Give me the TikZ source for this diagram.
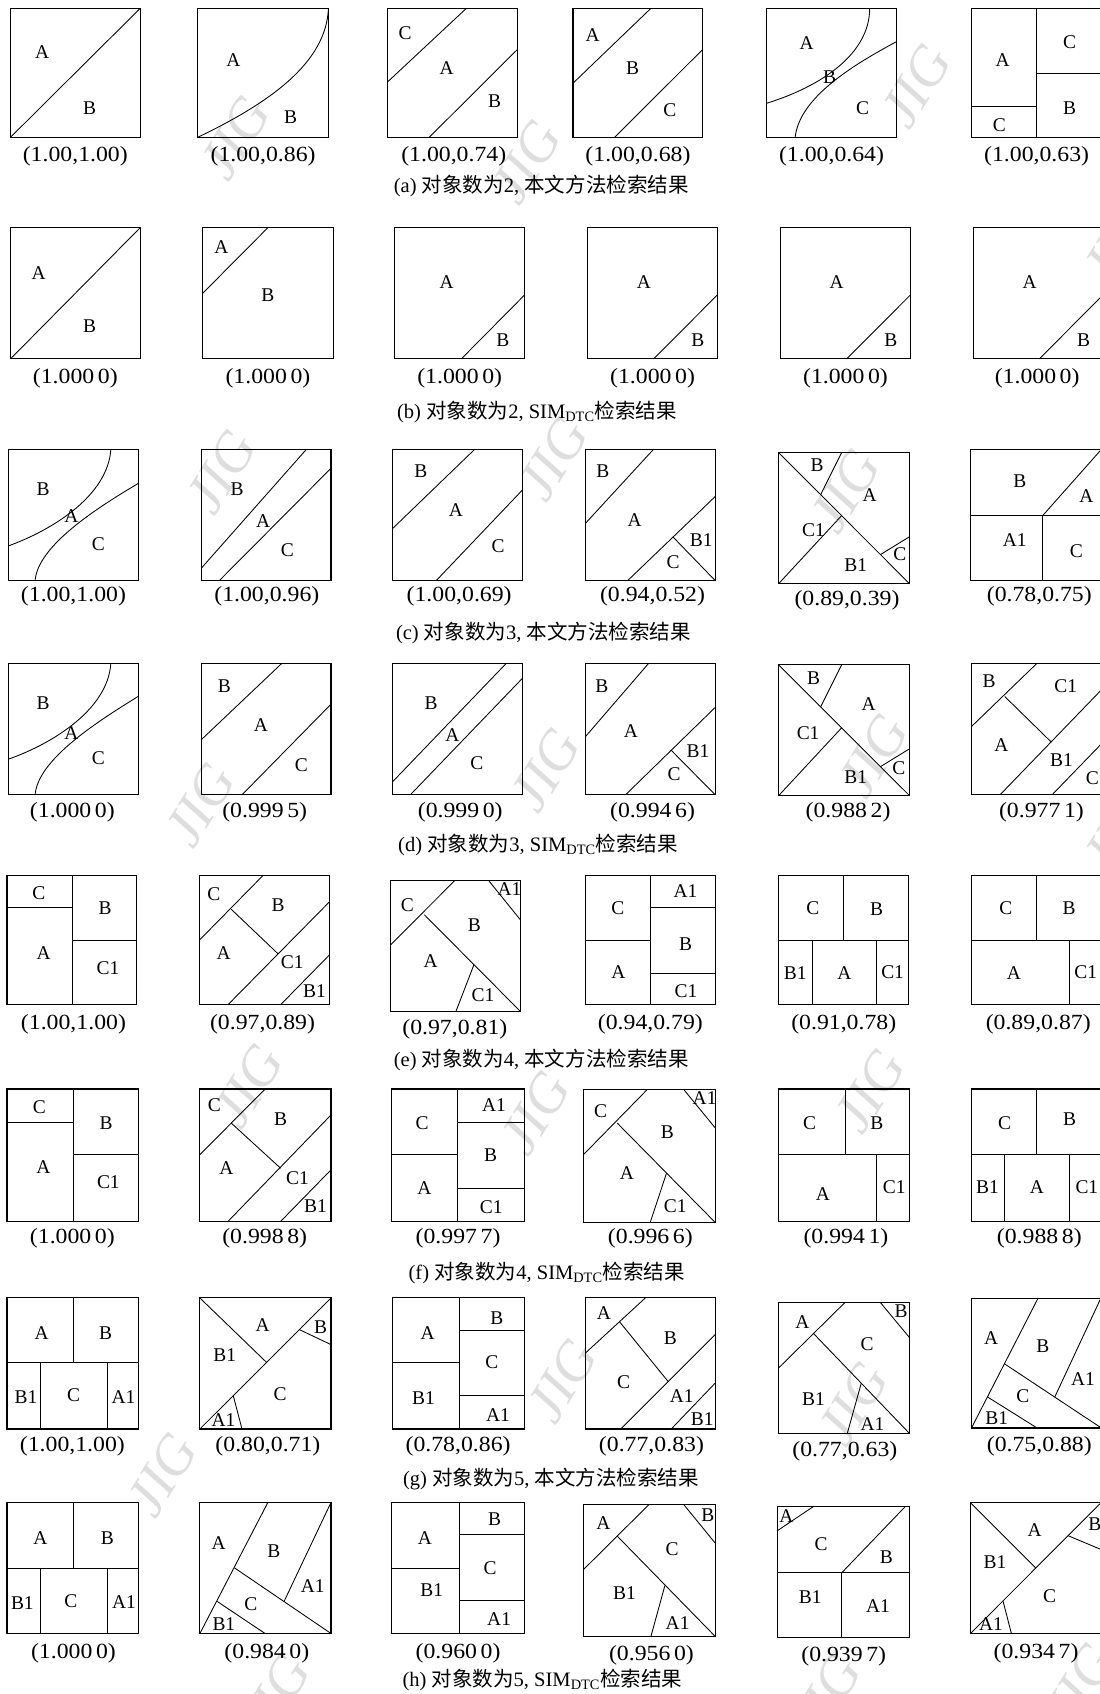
\documentclass[tikz,border=0pt]{standalone}
\usepackage{fontspec}
\setmainfont{Liberation Serif}
\newfontfamily\cjkf{Noto Sans CJK SC}
\newfontfamily\labf[FakeStretch=1.1]{Liberation Serif}
\newcounter{nn}
\newcommand\Tx[3]{\stepcounter{nn}\node[lt] (t\arabic{nn}) at (#1,#2) {#3};}
\newcommand\Lb[3]{\stepcounter{nn}\node[lb] (l\arabic{nn}) at (#1,#2) {#3};}
\newcommand\Wm[2]{\stepcounter{nn}\node[wm] (w\arabic{nn}) at (#1,#2) {JIG};}
\newcommand\Sq[4]{\draw[sq] (#1,#2) rectangle (#3,#4);}
\newcommand\CpA[4]{\stepcounter{nn}\node[cp] (c\arabic{nn}) at (#1,#2) {(#3) {\cjkf 对象数为}#4, {\cjkf 本文方法检索结果}};}
\newcommand\CpB[4]{\stepcounter{nn}\node[cp] (c\arabic{nn}) at (#1,#2) {(#3) {\cjkf 对象数为}#4, SIM\textsubscript{DTC}{\cjkf 检索结果}};}
\begin{document}
\begin{tikzpicture}[x=1pt,y=-1pt,
  sq/.style={line width=1pt},
  ln/.style={line width=0.8pt},
  lt/.style={inner sep=0pt,font=\fontsize{18}{18}\selectfont},
  lb/.style={inner sep=0pt,font=\labf\fontsize{20}{20}\selectfont},
  cp/.style={inner sep=0pt,font=\fontsize{19}{19}\selectfont},
  wm/.style={inner sep=0pt,text=black!13,rotate=58,font=\fontsize{52}{52}\selectfont\itshape}]
\useasboundingbox (0,0) rectangle (1018,1568);
\fill[white] (0,0) rectangle (1018,1568);
% watermarks
\Wm{218}{128}\Wm{487}{150}\Wm{848}{80}\Wm{1035}{225}
\Wm{205}{437}\Wm{512}{425}\Wm{782}{455}
\Wm{185}{745}\Wm{505}{713}\Wm{808}{700}\Wm{1035}{770}
\Wm{230}{1005}\Wm{495}{1030}\Wm{805}{1010}
\Wm{150}{1365}\Wm{520}{1278}\Wm{790}{1300}
\Wm{255}{1570}\Wm{765}{1570}\Wm{1000}{1560}
%%%%%%%%%%%%%%%% row a
\Sq{9.7}{7.7}{129.8}{127.1}
\draw[ln] (9.7,127.1) -- (129.8,7.7);
\Tx{39}{48}{A}\Tx{83}{100}{B}
\Sq{183}{7.7}{304}{127.1}
\draw[ln] (183,127.1) .. controls (250,95) and (302,58) .. (304,7.7);
\Tx{216}{55.5}{A}\Tx{269}{108}{B}
\Sq{359}{7.7}{479}{127.1}
\draw[ln] (359,75.6) -- (431.7,7.7);
\draw[ln] (397.3,127.1) -- (479,45.7);
\Tx{375}{31}{C}\Tx{413.5}{63}{A}\Tx{457.7}{94}{B}
\Sq{530.4}{7.7}{650.5}{127.1}
\draw[ln] (530.4,77) -- (602.5,7.7);
\draw[ln] (569,127.1) -- (650.5,45.7);
\Tx{548.6}{32.4}{A}\Tx{585.6}{63}{B}\Tx{620}{102}{C}
\Sq{709.6}{7.7}{829.7}{127.1}
\draw[ln] (709.6,95.6) .. controls (760,80) and (805,50) .. (805,7.7);
\draw[ln] (736,127.1) .. controls (740,90) and (790,60) .. (829.7,38.6);
\Tx{746.6}{40}{A}\Tx{768}{71}{B}\Tx{798.5}{100}{C}
\Sq{899.2}{7.7}{1019.5}{127.1}
\draw[ln] (959.5,7.7) -- (959.5,127.1);
\draw[ln] (899.2,98.7) -- (959.5,98.7);
\draw[ln] (959.5,67.9) -- (1019.5,67.9);
\Tx{928}{55.5}{A}\Tx{990}{38.6}{C}\Tx{990}{100}{B}\Tx{925}{115.7}{C}
\Lb{69.7}{145}{(1.00,1.00)}\Lb{243.5}{145}{(1.00,0.86)}\Lb{420}{145}{(1.00,0.74)}
\Lb{590.5}{145}{(1.00,0.68)}\Lb{769.7}{145}{(1.00,0.64)}\Lb{959.5}{145}{(1.00,0.63)}
\CpA{501}{172}{a}{2}
%%%%%%%%%%%%%%%% row b
\Sq{9.7}{210.7}{129.8}{332.2}
\draw[ln] (9.7,332.2) -- (129.8,210.7);
\Tx{35.7}{252.9}{A}\Tx{83}{302.3}{B}
\Sq{187.6}{210.7}{308.4}{332.2}
\draw[ln] (187.6,271.5) -- (248,210.7);
\Tx{205}{228.3}{A}\Tx{248}{273}{B}
\Sq{365.5}{210.7}{485.6}{332.2}
\draw[ln] (427,332.2) -- (485.6,273);
\Tx{413.5}{260.7}{A}\Tx{465.5}{314.7}{B}
\Sq{544}{210.7}{664}{332.2}
\draw[ln] (605,332.2) -- (664,273);
\Tx{596}{260.7}{A}\Tx{646}{314.7}{B}
\Sq{722.6}{210.7}{842.7}{332.2}
\draw[ln] (783.6,332.2) -- (842.7,273);
\Tx{774.5}{260.7}{A}\Tx{824.5}{314.7}{B}
\Sq{901}{210.7}{1021}{332.2}
\draw[ln] (962,332.2) -- (1021,273);
\Tx{953}{260.7}{A}\Tx{1003}{314.7}{B}
\Lb{69.7}{350}{(1.000\,0)}\Lb{248}{350}{(1.000\,0)}\Lb{425.5}{350}{(1.000\,0)}
\Lb{604}{350}{(1.000\,0)}\Lb{782.6}{350}{(1.000\,0)}\Lb{960}{350}{(1.000\,0)}
\CpB{497}{381}{b}{2}
%%%%%%%%%%%%%%%% row c
\Sq{7.8}{415.8}{127.9}{537.4}
\draw[ln] (7.8,505.3) .. controls (50,490) and (100,458) .. (102.6,415.8);
\draw[ln] (32.5,537.4) .. controls (35,505) and (90,470) .. (127.9,447.5);
\Tx{40}{452.7}{B}\Tx{66}{478}{A}\Tx{91}{504}{C}
\Sq{186.3}{415.8}{306.4}{537.4}
\draw[ln] (186.3,526) -- (283.7,415.8);
\draw[ln] (203,537.4) -- (306.4,433.4);
\Tx{219.4}{452.7}{B}\Tx{243.5}{482.7}{A}\Tx{266}{508.9}{C}
\Sq{363.6}{415.8}{483.7}{537.4}
\draw[ln] (363.6,489) -- (439.5,415.8);
\draw[ln] (403.8,537.4) -- (483.7,453.4);
\Tx{389.5}{436.5}{B}\Tx{422}{471.8}{A}\Tx{461}{505.2}{C}
\Sq{542}{415.8}{662}{537.4}
\draw[ln] (542,484.3) -- (605,415.8);
\draw[ln] (581,537.4) -- (662,459.6);
\draw[ln] (623,497.1) -- (662,537.4);
\Tx{558}{436.5}{B}\Tx{587.5}{481}{A}\Tx{649}{499.8}{B1}\Tx{623}{520}{C}
\Sq{720.6}{418.9}{842}{540.4}
\draw[ln] (720.6,418.9) -- (842,540.4);
\draw[ln] (720.6,540.4) -- (779,477.3);
\draw[ln] (759.6,457.9) -- (779,418.9);
\draw[ln] (815,513.3) -- (842,496.7);
\Tx{756.3}{431}{B}\Tx{805}{458}{A}\Tx{753}{490.6}{C1}\Tx{792}{523}{B1}\Tx{833}{513}{C}
\Sq{898.6}{415.8}{1019.5}{537}
\draw[ln] (898.6,477.5) -- (1019.5,477.5);
\draw[ln] (964.9,477.5) -- (964.9,537);
\draw[ln] (964.9,477.5) -- (1019,416.5);
\Tx{943.9}{445.8}{B}\Tx{1005.6}{459.6}{A}\Tx{939.3}{499.7}{A1}\Tx{996.4}{510.5}{C}
\Lb{68}{552}{(1.00,1.00)}\Lb{247}{552}{(1.00,0.96)}\Lb{425}{552}{(1.00,0.69)}
\Lb{604}{552}{(0.94,0.52)}\Lb{784}{556}{(0.89,0.39)}\Lb{962}{552}{(0.78,0.75)}
\CpA{503}{586}{c}{3}
%%%%%%%%%%%%%%%% row d
\Sq{7.8}{613.9}{127.9}{735.7}
\draw[ln] (7.8,702.7) .. controls (50,687.8) and (100,656) .. (102.6,613.9);
\draw[ln] (32.5,735.7) .. controls (35,703) and (90,668) .. (127.9,644.6);
\Tx{40}{650.8}{B}\Tx{66}{678.5}{A}\Tx{91}{701.7}{C}
\Sq{186.3}{613.9}{306.4}{735.7}
\draw[ln] (186.3,684.7) -- (261,613.9);
\draw[ln] (224,735.7) -- (306.4,651.8);
\Tx{207.7}{635.4}{B}\Tx{241.5}{670.8}{A}\Tx{279}{707.9}{C}
\Sq{363.6}{613.9}{483.7}{735.7}
\draw[ln] (363.6,723.4) -- (468.7,613.9);
\draw[ln] (379.8,735.7) -- (483.7,627.7);
\Tx{399}{650.8}{B}\Tx{418.7}{680.2}{A}\Tx{441.5}{706.4}{C}
\Sq{542}{613.9}{662}{735.7}
\draw[ln] (542,681.7) -- (600.5,613.9);
\draw[ln] (579,735.7) -- (662,654.8);
\draw[ln] (621.3,694.5) -- (662,735.7);
\Tx{557}{635.4}{B}\Tx{584}{677.1}{A}\Tx{646}{695}{B1}\Tx{624}{717}{C}
\Sq{720.6}{615.4}{842}{736.6}
\draw[ln] (720.6,615.4) -- (842,736.6);
\draw[ln] (720.6,736.6) -- (779,673.7);
\draw[ln] (759.6,654.3) -- (779,615.4);
\draw[ln] (815,709.6) -- (842,693);
\Tx{753}{628}{B}\Tx{804}{652}{A}\Tx{748}{679}{C1}\Tx{792}{719}{B1}\Tx{832}{711}{C}
\Sq{899.2}{613.8}{1019.5}{735.3}
\draw[ln] (899.2,672.5) -- (960,613.8);
\draw[ln] (930,644.7) -- (973.2,687);
\draw[ln] (926,735.3) -- (1019.5,638.5);
\draw[ln] (974.2,735.3) -- (1019.5,688.5);
\Tx{915.5}{630.8}{B}\Tx{986.5}{635.5}{C1}\Tx{927}{689.4}{A}\Tx{982.5}{703.3}{B1}\Tx{1011.2}{720.3}{C}
\Lb{67}{752}{(1.000\,0)}\Lb{245}{752}{(0.999\,5)}\Lb{426}{752}{(0.999\,0)}
\Lb{604}{752}{(0.994\,6)}\Lb{785}{752}{(0.988\,2)}\Lb{964}{752}{(0.977\,1)}
\CpB{498}{782}{d}{3}
%%%%%%%%%%%%%%%% row e
\Sq{6.5}{810.4}{126.6}{930}
\draw[ln] (66.9,810.4) -- (66.9,930);
\draw[ln] (6.5,839.7) -- (66.9,839.7);
\draw[ln] (66.9,870.5) -- (126.6,870.5);
\Tx{36}{826.5}{C}\Tx{97.4}{840.6}{B}\Tx{40.5}{882}{A}\Tx{100}{896.5}{C1}
\Sq{185}{810.4}{305}{930}
\draw[ln] (185,869.8) -- (243.4,810.4);
\draw[ln] (214,841.6) -- (257.4,882.9);
\draw[ln] (211,930) -- (305,834.7);
\draw[ln] (259.7,930) -- (305,883.8);
\Tx{198}{828}{C}\Tx{257.5}{838}{B}\Tx{207}{882}{A}\Tx{270.5}{891}{C1}\Tx{291}{917.5}{B1}
\Sq{361.6}{815.3}{481.7}{936.2}
\draw[ln] (361.6,874.5) -- (420.7,815.3);
\draw[ln] (392.8,846.7) -- (481.7,936.2);
\draw[ln] (438.7,892.9) -- (422,936.2);
\draw[ln] (452.5,815.3) -- (481.7,851.4);
\Tx{377}{838}{C}\Tx{471.5}{823}{A1}\Tx{439}{856}{B}\Tx{398.5}{890}{A}\Tx{447}{921.5}{C1}
\Sq{542}{810.4}{662}{930}
\draw[ln] (602.5,810.4) -- (602.5,930);
\draw[ln] (542,870.8) -- (602.5,870.8);
\draw[ln] (602.5,840) -- (662,840);
\draw[ln] (602.5,900.7) -- (662,900.7);
\Tx{572}{840.3}{C}\Tx{634.5}{824.5}{A1}\Tx{634.5}{873.5}{B}\Tx{572.5}{900}{A}\Tx{635}{917}{C1}
\Sq{720.6}{810.4}{840.7}{930}
\draw[ln] (720.6,870.8) -- (840.7,870.8);
\draw[ln] (781,810.4) -- (781,870.8);
\draw[ln] (751.8,870.8) -- (751.8,930);
\draw[ln] (811.5,870.8) -- (811.5,930);
\Tx{752.5}{840.8}{C}\Tx{811.3}{841.8}{B}\Tx{736}{900.3}{B1}\Tx{781.5}{900.3}{A}\Tx{826.2}{900.3}{C1}
\Sq{899}{810.4}{1019.5}{930}
\draw[ln] (899,870.8) -- (1019.5,870.8);
\draw[ln] (959.5,810.4) -- (959.5,870.8);
\draw[ln] (990,870.8) -- (990,930);
\Tx{931}{841}{C}\Tx{989.5}{840.3}{B}\Tx{938.5}{900.8}{A}\Tx{1005}{900.3}{C1}
\Lb{68}{948}{(1.00,1.00)}\Lb{243}{948}{(0.97,0.89)}\Lb{421}{953}{(0.97,0.81)}
\Lb{602}{948}{(0.94,0.79)}\Lb{781}{948}{(0.91,0.78)}\Lb{961}{948}{(0.89,0.87)}
\CpA{501}{981}{e}{4}
%%%%%%%%%%%%%%%% row f
\Sq{6.5}{1008}{128.5}{1130.6}
\draw[ln] (68.2,1008) -- (68.2,1130.6);
\draw[ln] (6.5,1038.6) -- (68.2,1038.6);
\draw[ln] (68.2,1068.8) -- (128.5,1068.8);
\Tx{36.4}{1024.8}{C}\Tx{98.2}{1040}{B}\Tx{40.1}{1080.5}{A}\Tx{100.3}{1094}{C1}
\Sq{185}{1008}{306.4}{1130.6}
\draw[ln] (185,1068.8) -- (245.4,1008);
\draw[ln] (214,1039.5) -- (259.7,1081.3);
\draw[ln] (211,1130.6) -- (306.4,1032);
\draw[ln] (259.7,1130.6) -- (306.4,1082.8);
\Tx{198.5}{1022.8}{C}\Tx{259.8}{1036}{B}\Tx{209.5}{1081}{A}\Tx{275.4}{1090.2}{C1}\Tx{292}{1116.5}{B1}
\Sq{362}{1008}{485.6}{1130.6}
\draw[ln] (423.3,1008) -- (423.3,1130.6);
\draw[ln] (362,1068.8) -- (423.3,1068.8);
\draw[ln] (423.3,1039) -- (485.6,1039);
\draw[ln] (423.3,1099.7) -- (485.6,1099.7);
\Tx{390.7}{1039.3}{C}\Tx{457.3}{1023}{A1}\Tx{454.2}{1069.6}{B}\Tx{392.9}{1099.8}{A}\Tx{454.7}{1117}{C1}
\Sq{540}{1008.6}{662}{1131.5}
\draw[ln] (540,1068.8) -- (599,1008.6);
\draw[ln] (571.3,1039.5) -- (662,1131.5);
\draw[ln] (617,1085.8) -- (601.8,1131.5);
\draw[ln] (633,1008.6) -- (662,1044);
\Tx{556}{1028.3}{C}\Tx{652.2}{1016}{A1}\Tx{617.8}{1047.9}{B}\Tx{580.3}{1086.2}{A}\Tx{625}{1116.6}{C1}
\Sq{720.6}{1008}{842}{1130.6}
\draw[ln] (720.6,1068.8) -- (842,1068.8);
\draw[ln] (782.3,1008) -- (782.3,1068.8);
\draw[ln] (811.5,1068.8) -- (811.5,1130.6);
\Tx{749.3}{1039.3}{C}\Tx{811.7}{1039.3}{B}\Tx{761.7}{1105}{A}\Tx{827.7}{1099}{C1}
\Sq{899}{1008}{1019.5}{1130.6}
\draw[ln] (899,1068.8) -- (1019.5,1068.8);
\draw[ln] (959.5,1008) -- (959.5,1068.8);
\draw[ln] (929.7,1068.8) -- (929.7,1130.6);
\draw[ln] (990,1068.8) -- (990,1130.6);
\Tx{929.8}{1039.3}{C}\Tx{990}{1036.3}{B}\Tx{914}{1099}{B1}\Tx{959.7}{1099}{A}\Tx{1006}{1099}{C1}
\Lb{67}{1146}{(1.000\,0)}\Lb{245}{1146}{(0.998\,8)}\Lb{424}{1146}{(0.997\,7)}
\Lb{602}{1146}{(0.996\,6)}\Lb{783}{1146}{(0.994\,1)}\Lb{962}{1146}{(0.988\,8)}
\CpB{506}{1178}{f}{4}
%%%%%%%%%%%%%%%% row g
\Sq{6.5}{1201.4}{127.9}{1322.7}
\draw[ln] (6.5,1261) -- (127.9,1261);
\draw[ln] (68.2,1201.4) -- (68.2,1261);
\draw[ln] (37,1261) -- (37,1322.7);
\draw[ln] (99.3,1261) -- (99.3,1322.7);
\Tx{38.5}{1233.5}{A}\Tx{97.7}{1234}{B}\Tx{24}{1293.5}{B1}\Tx{68.1}{1291.7}{C}\Tx{114.3}{1293}{A1}
\Sq{185}{1201.4}{306.4}{1322.7}
\draw[ln] (185,1201.4) -- (246.7,1261);
\draw[ln] (185,1322.7) -- (306.4,1201.4);
\draw[ln] (277.1,1230.7) -- (306.4,1244.6);
\draw[ln] (215.9,1291.8) -- (224,1322.7);
\Tx{243.2}{1226.5}{A}\Tx{296.7}{1228.3}{B}\Tx{208}{1254}{B1}\Tx{259.2}{1290}{C}\Tx{206.8}{1314.8}{A1}
\Sq{363.6}{1201.4}{485.6}{1322.7}
\draw[ln] (425.2,1201.4) -- (425.2,1322.7);
\draw[ln] (363.6,1261) -- (425.2,1261);
\draw[ln] (425.2,1231.4) -- (485.6,1231.4);
\draw[ln] (425.2,1291.9) -- (485.6,1291.9);
\Tx{395.8}{1233.5}{A}\Tx{459.8}{1220.2}{B}\Tx{455.2}{1260.7}{C}\Tx{392}{1294}{B1}\Tx{461}{1310}{A1}
\Sq{542}{1201.4}{662}{1322.7}
\draw[ln] (542,1252.3) -- (597.3,1201.4);
\draw[ln] (573.5,1223.5) -- (618.5,1278.8);
\draw[ln] (574.6,1322.7) -- (662,1235.3);
\draw[ln] (621.3,1322.7) -- (662,1280.2);
\Tx{559}{1215.5}{A}\Tx{620.5}{1239}{B}\Tx{577.2}{1279}{C}\Tx{631}{1292}{A1}\Tx{650}{1314}{B1}
\Sq{720.6}{1205.4}{842}{1327}
\draw[ln] (720.6,1266.3) -- (782.3,1205.4);
\draw[ln] (753,1234.3) -- (842,1327);
\draw[ln] (814.7,1205.4) -- (842,1238.3);
\draw[ln] (797.2,1280.3) -- (784.2,1327);
\Tx{742.6}{1223.3}{A}\Tx{834.1}{1213.6}{B}\Tx{802.5}{1243.8}{C}\Tx{753}{1295.2}{B1}\Tx{807.6}{1318.3}{A1}
\Sq{899.2}{1201.5}{1019.5}{1321.8}
\draw[ln] (899.2,1321.8) -- (960.9,1201.5);
\draw[ln] (929.7,1262.3) -- (1019.5,1321.8);
\draw[ln] (914,1293) -- (960,1321.8);
\draw[ln] (976.3,1293.1) -- (1019,1201.5);
\Tx{917.5}{1239}{A}\Tx{965.2}{1245.6}{B}\Tx{1002.5}{1276.2}{A1}\Tx{946.7}{1292.2}{C}\Tx{922.5}{1312.3}{B1}
\Lb{67}{1339}{(1.00,1.00)}\Lb{248}{1339}{(0.80,0.71)}\Lb{424}{1339}{(0.78,0.86)}
\Lb{603}{1339}{(0.77,0.83)}\Lb{782}{1343}{(0.77,0.63)}\Lb{962}{1339}{(0.75,0.88)}
\CpA{510}{1369}{g}{5}
%%%%%%%%%%%%%%%% row h
\Sq{6.5}{1390.6}{128.5}{1512.1}
\draw[ln] (6.5,1451.3) -- (128.5,1451.3);
\draw[ln] (68.2,1390.6) -- (68.2,1451.3);
\draw[ln] (37,1451.3) -- (37,1512.1);
\draw[ln] (99.3,1451.3) -- (99.3,1512.1);
\Tx{37.5}{1424}{A}\Tx{99.3}{1423.5}{B}\Tx{20.7}{1483.7}{B1}\Tx{65.5}{1482.5}{C}\Tx{114.8}{1482.5}{A1}
\Sq{185}{1390.6}{306.4}{1512}
\draw[ln] (185,1512) -- (248,1390.6);
\draw[ln] (306.4,1390.6) -- (262.9,1482.4);
\draw[ln] (216.7,1451) -- (306.4,1512);
\draw[ln] (200.6,1482) -- (245.4,1512);
\Tx{202.3}{1428.2}{A}\Tx{253.5}{1436}{B}\Tx{289.5}{1467.7}{A1}\Tx{232.2}{1484.7}{C}\Tx{207.2}{1503}{B1}
\Sq{362}{1390.6}{485.6}{1512}
\draw[ln] (425.2,1390.6) -- (425.2,1512);
\draw[ln] (362,1451.3) -- (425.2,1451.3);
\draw[ln] (425.2,1420.5) -- (485.6,1420.5);
\draw[ln] (425.2,1481.6) -- (485.6,1481.6);
\Tx{393.4}{1424}{A}\Tx{457.8}{1406.3}{B}\Tx{453.6}{1451.6}{C}\Tx{399.6}{1472.2}{B1}\Tx{462}{1498.3}{A1}
\Sq{540}{1392.8}{662}{1514.7}
\draw[ln] (540,1452.9) -- (600.5,1392.8);
\draw[ln] (571.3,1421.8) -- (662,1514.7);
\draw[ln] (615.4,1467.7) -- (602.5,1514.7);
\draw[ln] (633,1392.8) -- (662,1428.3);
\Tx{558.5}{1410}{A}\Tx{655.2}{1402.8}{B}\Tx{622}{1434.3}{C}\Tx{578}{1474.3}{B1}\Tx{627.2}{1502.7}{A1}
\Sq{719.3}{1394.4}{842}{1516}
\draw[ln] (719.3,1455.9) -- (842,1455.9);
\draw[ln] (779,1455.9) -- (779,1516);
\draw[ln] (779,1455.9) -- (838,1394.4);
\draw[ln] (719.3,1417) -- (753,1394.4);
\Tx{728}{1403}{A}\Tx{760}{1429.7}{C}\Tx{820.5}{1441}{B}\Tx{750}{1478.6}{B1}\Tx{812.6}{1487}{A1}
\Sq{898}{1390.6}{1019.5}{1512.2}
\draw[ln] (898,1390.6) -- (958.7,1451.3);
\draw[ln] (898,1512.2) -- (1019.5,1390.6);
\draw[ln] (988.6,1421.4) -- (1019.5,1434.4);
\draw[ln] (928.5,1482.2) -- (936.2,1512.2);
\Tx{957.7}{1415.9}{A}\Tx{1013.5}{1411}{B}\Tx{921}{1445.6}{B1}\Tx{971.5}{1477.6}{C}\Tx{917.2}{1503}{A1}
\Lb{68}{1530}{(1.000\,0)}\Lb{247}{1530}{(0.984\,0)}\Lb{424}{1530}{(0.960\,0)}
\Lb{603}{1532}{(0.956\,0)}\Lb{781}{1533}{(0.939\,7)}\Lb{959}{1530}{(0.934\,7)}
\CpB{502}{1555}{h}{5}
\end{tikzpicture}
\end{document}
